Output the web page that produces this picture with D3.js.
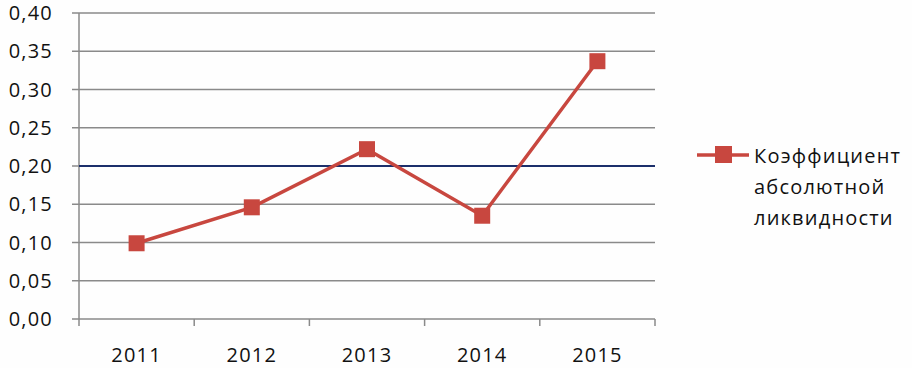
<!DOCTYPE html><html>
<head>
<meta charset="utf-8">
<style>
body { margin: 0; padding: 0; background-color: #fefefe; }
svg text { font-family: "Open Sans", "DejaVu Sans", sans-serif; fill: #111; font-size: 20px; letter-spacing: 1.2px; }
.grid line { stroke: #8a8a8a; stroke-width: 1.5px; }
.series { fill: none; stroke: #c8473f; stroke-width: 3.5px; }
.norm { stroke: #1c2f6b; stroke-width: 2px; }
</style>
<script src="https://cdn.jsdelivr.net/npm/d3@7"></script>
</head>
<body>
<svg id="chart" width="912" height="368"></svg>
<script>
var years = ["2011", "2012", "2013", "2014", "2015"];
var values = [0.099, 0.146, 0.222, 0.135, 0.337];
var yTicks = [0, 0.05, 0.10, 0.15, 0.20, 0.25, 0.30, 0.35, 0.40];
var normValue = 0.20;
var legendLines = ["Коэффициент", "абсолютной", "ликвидности"];

var svg = d3.select("#chart");
var mLeft = 79, mRight = 655, mTop = 13, mBottom = 319;

var x = d3.scaleBand().domain(years).range([mLeft, mRight]);
var y = d3.scaleLinear().domain([0, 0.4]).range([mBottom, mTop]);
var fmt = function(v) { return d3.format(".2f")(v).replace(".", ","); };

// horizontal grid
var grid = svg.append("g").attr("class", "grid");
grid.selectAll("line").data(yTicks).enter().append("line")
    .attr("x1", mLeft - 7).attr("x2", mRight)
    .attr("y1", d => y(d)).attr("y2", d => y(d));

// y axis line
svg.append("line").attr("x1", mLeft).attr("x2", mLeft)
    .attr("y1", mTop).attr("y2", mBottom)
    .style("stroke", "#8a8a8a").style("stroke-width", "1.5px");

// x ticks at category boundaries
var bounds = years.map(d => x(d)).concat([mRight]);
svg.append("g").attr("class", "grid").selectAll("line").data(bounds).enter().append("line")
    .attr("x1", d => d).attr("x2", d => d)
    .attr("y1", mBottom).attr("y2", mBottom + 7);

svg.append("g").selectAll("text").data(yTicks).enter().append("text")
    .attr("x", 53).attr("y", d => y(d) + 7)
    .attr("text-anchor", "end")
    .text(fmt);

svg.append("g").selectAll("text").data(years).enter().append("text")
    .attr("x", d => x(d) + x.bandwidth() / 2).attr("y", 362)
    .attr("text-anchor", "middle")
    .text(d => d);

// norm line
svg.append("line").attr("class", "norm")
    .attr("x1", mLeft).attr("x2", mRight)
    .attr("y1", y(normValue)).attr("y2", y(normValue));

var line = d3.line().x((d, i) => x(years[i]) + x.bandwidth() / 2).y(d => y(d));
svg.append("path").datum(values).attr("class", "series").attr("d", line);

svg.append("g").selectAll("rect").data(values).enter().append("rect")
    .attr("x", (d, i) => x(years[i]) + x.bandwidth() / 2 - 8)
    .attr("y", d => y(d) - 8)
    .attr("width", 16).attr("height", 16)
    .style("fill", "#c8473f");

// legend
var lg = svg.append("g");
lg.append("line").attr("x1", 697).attr("x2", 749).attr("y1", 155).attr("y2", 155)
    .attr("class", "series");
lg.append("rect").attr("x", 715).attr("y", 146).attr("width", 17).attr("height", 17)
    .style("fill", "#c8473f");
lg.selectAll("text").data(legendLines).enter().append("text")
    .attr("x", 754).attr("y", (d, i) => 163 + i * 31)
    .text(d => d);
</script>
</body>
</html>
